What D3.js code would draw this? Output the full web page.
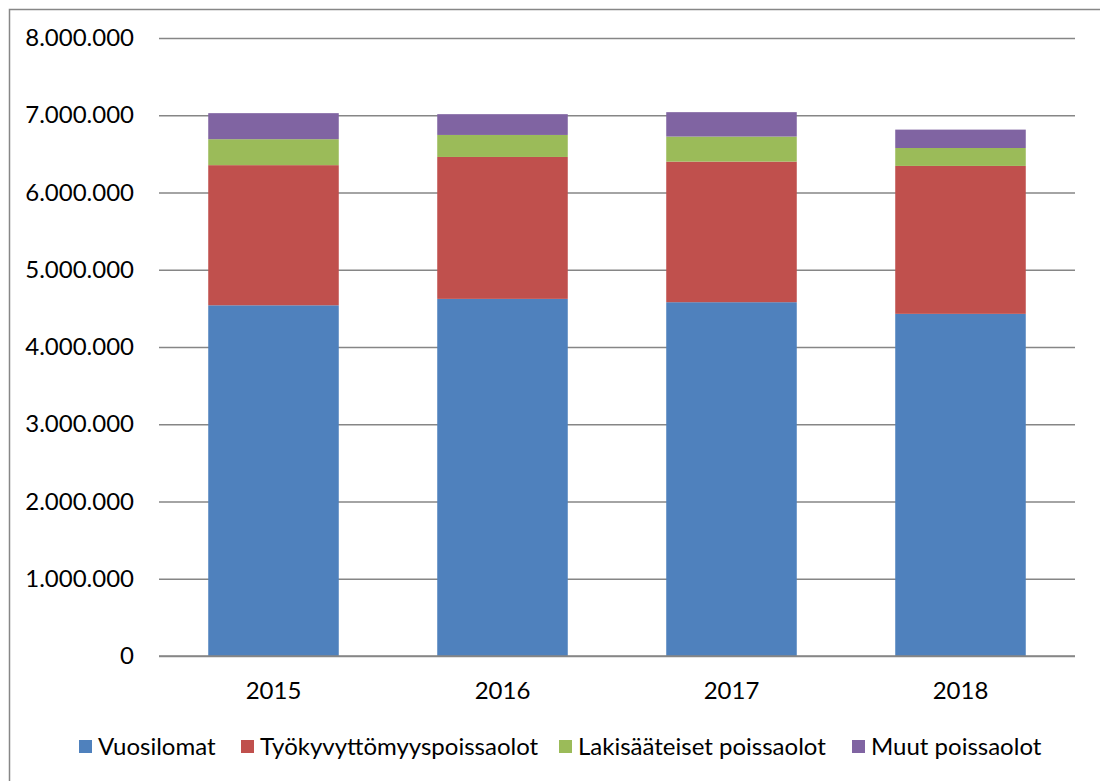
<!DOCTYPE html>
<html>
<head>
<meta charset="utf-8">
<script src="https://d3js.org/d3.v7.min.js"></script>
<style>
body { margin: 0; background: white; }
text { font-family: Lato, "Open Sans", sans-serif; fill: #000; }
</style>
</head>
<body>
<svg id="chart" width="1100" height="781"></svg>
<script>
// data
var years = ["2015", "2016", "2017", "2018"];
var seriesNames = ["Vuosilomat", "Työkyvyttömyyspoissaolot", "Lakisääteiset poissaolot", "Muut poissaolot"];
var colors = ["#4f81bd", "#c0504d", "#9bbb59", "#8064a2"];
var vuosilomat = [4540000, 4623000, 4580000, 4429000];
var tyokyvyttomyys = [1814000, 1837000, 1820000, 1915000];
var lakisaateiset = [336000, 285000, 324000, 232000];
var muut = [337000, 269000, 316000, 238000];
var yTicks = [0, 1000000, 2000000, 3000000, 4000000, 5000000, 6000000, 7000000, 8000000];

var svg = d3.select("#chart");

// outer frame
svg.append("rect")
  .attr("x", 9.5).attr("y", 9.5)
  .attr("width", 1100).attr("height", 800)
  .attr("fill", "none").attr("stroke", "#878787").attr("stroke-width", 1.5);

var plotL = 159, plotR = 1075, plotT = 38, plotB = 656;

var x = d3.scaleBand().domain(years).range([plotL, plotR]).paddingInner(0.43).paddingOuter(0.215);
var y = d3.scaleLinear().domain([0, 8000000]).range([plotB, plotT]);

var fmt = function (v) { return d3.format(",")(v).replace(/,/g, "."); };

// gridlines + y labels
var yAxis = svg.append("g")
  .attr("transform", "translate(" + plotL + ",0)")
  .call(d3.axisLeft(y).tickValues(yTicks).tickSize(-(plotR - plotL)).tickPadding(25).tickFormat(fmt));
yAxis.select(".domain").remove();
yAxis.selectAll("line").attr("stroke", "#868686").attr("stroke-width", 1.5);
yAxis.selectAll("text").style("font-size", "24px").style("font-family", "Lato, sans-serif").attr("fill", "#000");

var table = years.map(function (yr, i) {
  return { year: yr, a: vuosilomat[i], b: tyokyvyttomyys[i], c: lakisaateiset[i], d: muut[i] };
});
var stack = d3.stack().keys(["a", "b", "c", "d"]);
var layers = stack(table);

svg.append("g").selectAll("g")
  .data(layers)
  .enter().append("g")
    .attr("fill", function (d, i) { return colors[i]; })
  .selectAll("rect")
  .data(function (d) { return d; })
  .enter().append("rect")
    .attr("x", function (d) { return x(d.data.year); })
    .attr("width", x.bandwidth())
    .attr("y", function (d) { return y(d[1]); })
    .attr("height", function (d) { return y(d[0]) - y(d[1]); });

// baseline
svg.append("line")
  .attr("x1", plotL).attr("x2", plotR).attr("y1", plotB).attr("y2", plotB)
  .attr("stroke", "#868686").attr("stroke-width", 1.5);

// x labels
svg.append("g").selectAll("text")
  .data(years)
  .enter().append("text")
    .attr("x", function (d) { return x(d) + x.bandwidth() / 2; })
    .attr("y", 699)
    .attr("text-anchor", "middle")
    .style("font-size", "24px")
    .text(function (d) { return d; });

// legend
var legendX = [79, 241, 559, 852];
var lg = svg.append("g").selectAll("g")
  .data(seriesNames)
  .enter().append("g")
    .attr("transform", function (d, i) { return "translate(" + legendX[i] + ",740)"; });
lg.append("rect")
  .attr("width", 13).attr("height", 13)
  .attr("fill", function (d, i) { return colors[i]; });
lg.append("text")
  .attr("x", 19).attr("y", 15)
  .style("font-size", "24px")
  .text(function (d) { return d; });
</script>
</body>
</html>
